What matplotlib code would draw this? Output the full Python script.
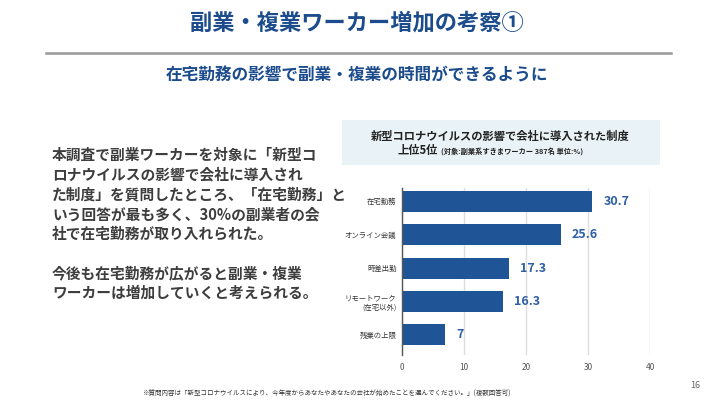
import matplotlib.pyplot as plt
from matplotlib.patches import Rectangle
from matplotlib.lines import Line2D

plt.rcParams['font.family'] = ['Noto Sans CJK JP', 'DejaVu Sans']

# Data
categories = ['在宅勤務', 'オンライン会議', '時差出勤', 'リモートワーク\n(在宅以外)', '残業の上限']
values = [30.7, 25.6, 17.3, 16.3, 7]
xticks = [0, 10, 20, 30, 40]

title = '副業・複業ワーカー増加の考察①'
subtitle = '在宅勤務の影響で副業・複業の時間ができるように'
body_lines = [
    '本調査で副業ワーカーを対象に「新型コ',
    'ロナウイルスの影響で会社に導入され',
    'た制度」を質問したところ、「在宅勤務」と',
    'いう回答が最も多く、30%の副業者の会',
    '社で在宅勤務が取り入れられた。',
    '',
    '今後も在宅勤務が広がると副業・複業',
    'ワーカーは増加していくと考えられる。',
]
chart_title = '新型コロナウイルスの影響で会社に導入された制度'
chart_sub1 = '上位5位'
chart_sub2 = '(対象:副業系すきまワーカー 387名 単位:%)'
footnote = '※質問内容は「新型コロナウイルスにより、今年度からあなたやあなたの会社が始めたことを選んでください。」(複数回答可)'
page_no = '16'

W, H = 714, 400
navy = '#1c4c8c'
bar_color = '#1f5596'
label_color = '#2f5fa5'

fig = plt.figure(figsize=(W / 100, H / 100), dpi=100)


def fx(x):
    return x / W


def fy(y):
    return 1 - y / H


# header
fig.text(fx(357), fy(23), title, ha='center', va='center', fontsize=16,
         fontweight='bold', color=navy)
fig.add_artist(Line2D([fx(46), fx(671)], [fy(53), fy(53)], color='#999999',
                      linewidth=1.8))
fig.text(fx(357), fy(76), subtitle, ha='center', va='center', fontsize=12,
         fontweight='bold', color=navy)

# left body text
y = 155
for line in body_lines:
    if line:
        fig.text(fx(52), fy(y), line, ha='left', va='center', fontsize=10.6,
                 fontweight='bold', color='#3d3d3d')
    y += 19.7

# chart title box
fig.add_artist(Rectangle((fx(342), fy(165)), fx(660) - fx(342), fy(120) - fy(165),
                         transform=fig.transFigure, facecolor='#e8f2f7',
                         edgecolor='none', zorder=0))
fig.text(fx(500), fy(136), chart_title, ha='center', va='center', fontsize=8.1,
         fontweight='bold', color='#222222')
fig.text(fx(438), fy(151), chart_sub1, ha='right', va='center', fontsize=8.1,
         fontweight='bold', color='#222222')
fig.text(fx(441), fy(151.5), chart_sub2, ha='left', va='center', fontsize=5.2,
         fontweight='bold', color='#222222')

# bar chart
ax = fig.add_axes([fx(402), fy(355), fx(650) - fx(402), fy(188) - fy(355)])
ypos = list(range(len(categories)))
ax.barh(ypos, values, height=0.63, color=bar_color, zorder=3)
for yi, v in zip(ypos, values):
    ax.annotate(f'{v:g}', (v, yi), xytext=(8, 0), textcoords='offset points',
                ha='left', va='center', fontsize=9, fontweight='bold',
                color=label_color)
ax.set_xlim(0, 40)
ax.set_ylim(4.6, -0.4)
ax.set_xticks(xticks)
ax.set_yticks(ypos)
ax.set_yticklabels(categories, fontsize=5.3, color='#333333', linespacing=1.1)
ax.tick_params(axis='x', length=0, labelsize=6, colors='#555555', pad=6)
ax.tick_params(axis='y', length=0, pad=4)
ax.grid(axis='x', color='#dddddd', linewidth=1, zorder=0)
for s in ['top', 'right', 'bottom']:
    ax.spines[s].set_visible(False)
ax.spines['left'].set_color('#555555')
ax.spines['left'].set_linewidth(1)
ax.spines['left'].set_zorder(4)

# footnote and page number
fig.text(fx(142), fy(394), footnote, ha='left', va='center', fontsize=4.7,
         color='#333333')
fig.text(fx(700), fy(386), page_no, ha='right', va='center', fontsize=6.5,
         color='#666666')

fig.savefig('out.png', dpi=100)
